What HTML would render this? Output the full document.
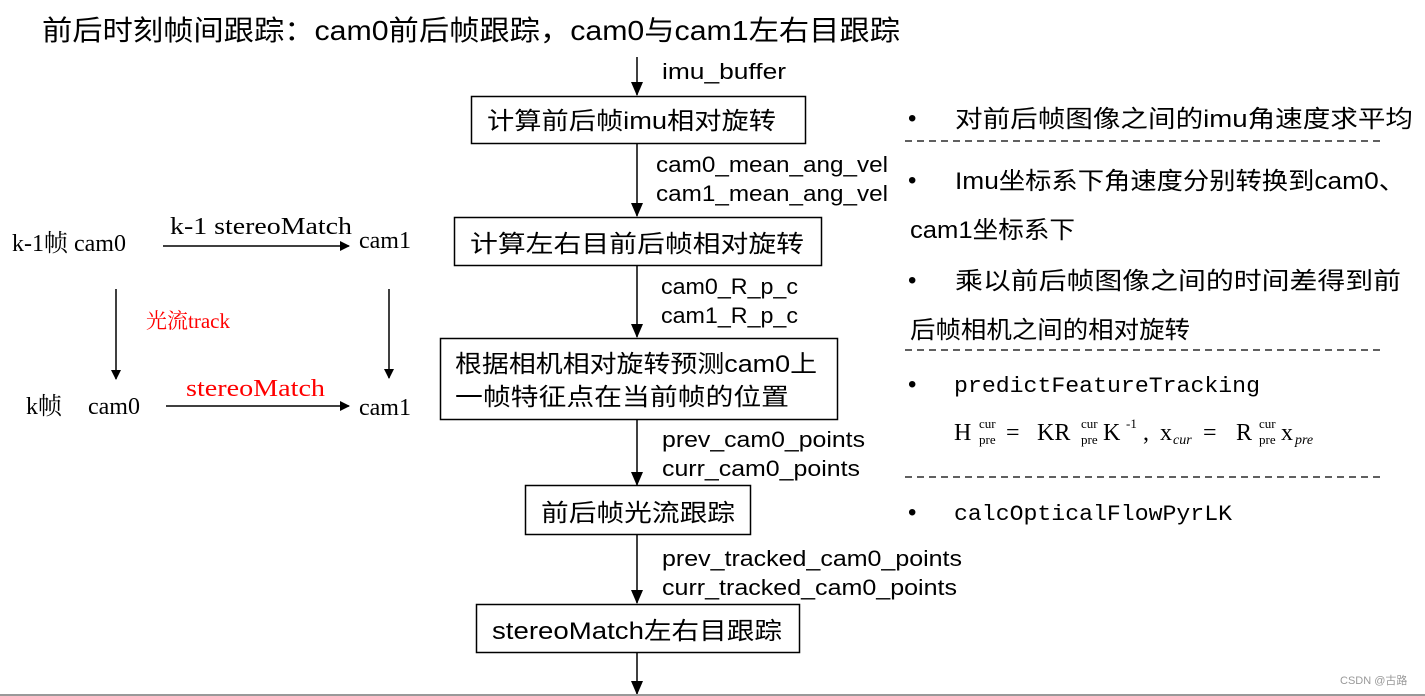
<!DOCTYPE html>
<html><head><meta charset="utf-8"><style>
html,body{margin:0;padding:0;background:#fff;}
svg{display:block;}
.cj{font-family:"Liberation Sans","Noto Sans CJK SC",sans-serif;}
.sr{font-family:"Liberation Serif","Noto Serif CJK SC",serif;}
.mo{font-family:"Liberation Mono","Noto Sans CJK SC",monospace;}
</style></head><body>
<svg width="1425" height="696" viewBox="0 0 1425 696" xmlns="http://www.w3.org/2000/svg">
<defs><marker id="a" markerWidth="10" markerHeight="10" refX="9" refY="5" orient="auto" markerUnits="userSpaceOnUse"><path d="M0,0 L10,5 L0,10 z" fill="#000"/></marker>
<marker id="b" markerWidth="14" markerHeight="14" refX="13" refY="6" orient="auto" markerUnits="userSpaceOnUse"><path d="M0,0 L14,6 L0,12 z" fill="#000"/></marker></defs>
<rect width="1425" height="696" fill="#fff"/>
<text class="cj" x="42" y="40" font-size="28" textLength="858" lengthAdjust="spacingAndGlyphs">前后时刻帧间跟踪：cam0前后帧跟踪，cam0与cam1左右目跟踪</text>

<g stroke="#000" stroke-width="1.5" fill="none">
<line x1="637" y1="57" x2="637" y2="95" marker-end="url(#b)"/>
<line x1="637" y1="144" x2="637" y2="216" marker-end="url(#b)"/>
<line x1="637" y1="266" x2="637" y2="337" marker-end="url(#b)"/>
<line x1="637" y1="419" x2="637" y2="485" marker-end="url(#b)"/>
<line x1="637" y1="535" x2="637" y2="603" marker-end="url(#b)"/>
<line x1="637" y1="653" x2="637" y2="694" marker-end="url(#b)"/>
<rect x="471.5" y="96.5" width="334" height="47"/>
<rect x="454.5" y="217.5" width="367" height="48"/>
<rect x="440.5" y="338.5" width="397" height="81"/>
<rect x="525.5" y="485.5" width="225" height="49"/>
<rect x="476.5" y="604.5" width="323" height="48"/>
</g>
<g class="cj" font-size="24">
<text x="487" y="129" textLength="289" lengthAdjust="spacingAndGlyphs">计算前后帧imu相对旋转</text>
<text x="470" y="252" textLength="334" lengthAdjust="spacingAndGlyphs">计算左右目前后帧相对旋转</text>
<text x="455" y="372" textLength="362" lengthAdjust="spacingAndGlyphs">根据相机相对旋转预测cam0上</text>
<text x="455" y="405" textLength="334" lengthAdjust="spacingAndGlyphs">一帧特征点在当前帧的位置</text>
<text x="541" y="521" textLength="194" lengthAdjust="spacingAndGlyphs">前后帧光流跟踪</text>
<text x="492" y="639" textLength="290" lengthAdjust="spacingAndGlyphs">stereoMatch左右目跟踪</text>
</g>
<g class="cj" font-size="22">
<text x="662" y="79" textLength="124" lengthAdjust="spacingAndGlyphs">imu_buffer</text>
<text x="656" y="172" textLength="232" lengthAdjust="spacingAndGlyphs">cam0_mean_ang_vel</text>
<text x="656" y="201" textLength="232" lengthAdjust="spacingAndGlyphs">cam1_mean_ang_vel</text>
<text x="661" y="294" textLength="137" lengthAdjust="spacingAndGlyphs">cam0_R_p_c</text>
<text x="661" y="323" textLength="137" lengthAdjust="spacingAndGlyphs">cam1_R_p_c</text>
<text x="662" y="447" textLength="203" lengthAdjust="spacingAndGlyphs">prev_cam0_points</text>
<text x="662" y="476" textLength="198" lengthAdjust="spacingAndGlyphs">curr_cam0_points</text>
<text x="662" y="566" textLength="300" lengthAdjust="spacingAndGlyphs">prev_tracked_cam0_points</text>
<text x="662" y="595" textLength="295" lengthAdjust="spacingAndGlyphs">curr_tracked_cam0_points</text>
</g>

<g class="cj" font-size="24">
<text x="908" y="126">•</text>
<text x="955" y="127" textLength="458" lengthAdjust="spacingAndGlyphs">对前后帧图像之间的imu角速度求平均</text>
<text x="908" y="188">•</text>
<text x="955" y="189" textLength="450" lengthAdjust="spacingAndGlyphs">Imu坐标系下角速度分别转换到cam0、</text>
<text x="910" y="238" textLength="165" lengthAdjust="spacingAndGlyphs">cam1坐标系下</text>
<text x="908" y="288">•</text>
<text x="955" y="289" textLength="446" lengthAdjust="spacingAndGlyphs">乘以前后帧图像之间的时间差得到前</text>
<text x="910" y="338" textLength="280" lengthAdjust="spacingAndGlyphs">后帧相机之间的相对旋转</text>
<text x="908" y="392">•</text>
<text x="908" y="520">•</text>
</g>
<g class="mo" font-size="22">
<text x="954" y="392" textLength="306" lengthAdjust="spacingAndGlyphs">predictFeatureTracking</text>
<text x="954" y="520" textLength="278" lengthAdjust="spacingAndGlyphs">calcOpticalFlowPyrLK</text>
</g>
<g stroke="#000" stroke-width="1.3" stroke-dasharray="7,5">
<line x1="905" y1="141" x2="1380" y2="141"/>
<line x1="905" y1="350" x2="1380" y2="350"/>
<line x1="905" y1="477" x2="1380" y2="477"/>
</g>
<g class="sr" font-size="24">
<text x="954" y="440">H</text>
<text x="979" y="428" font-size="13">cur</text><text x="979" y="444" font-size="13">pre</text>
<text x="1006" y="440">=</text>
<text x="1037" y="440">KR</text>
<text x="1081" y="428" font-size="13">cur</text><text x="1081" y="444" font-size="13">pre</text>
<text x="1103" y="440">K</text>
<text x="1126" y="428" font-size="13">-1</text>
<text x="1143" y="440">,</text>
<text x="1160" y="440">x</text>
<text x="1173" y="444" font-size="14" font-style="italic">cur</text>
<text x="1203" y="440">=</text>
<text x="1236" y="440">R</text>
<text x="1259" y="428" font-size="13">cur</text><text x="1259" y="444" font-size="13">pre</text>
<text x="1281" y="440">x</text>
<text x="1295" y="444" font-size="14" font-style="italic">pre</text>
</g>

<g class="sr" font-size="24">
<text x="12" y="251">k-1帧 cam0</text>
<text x="170" y="234" textLength="182" lengthAdjust="spacingAndGlyphs">k-1 stereoMatch</text>
<text x="359" y="248">cam1</text>
<text x="26" y="414">k帧</text>
<text x="88" y="414">cam0</text>
<text x="359" y="415">cam1</text>
<text x="186" y="396" fill="#ff0000" textLength="139" lengthAdjust="spacingAndGlyphs">stereoMatch</text>
<text x="146" y="328" fill="#ff0000" font-size="21">光流track</text>
</g>
<g stroke="#000" stroke-width="1.5">
<line x1="163" y1="246" x2="349" y2="246" marker-end="url(#a)"/>
<line x1="166" y1="406" x2="349" y2="406" marker-end="url(#a)"/>
<line x1="116" y1="289" x2="116" y2="379" marker-end="url(#a)"/>
<line x1="389" y1="289" x2="389" y2="378" marker-end="url(#a)"/>
</g>
<text class="cj" x="1340" y="684" font-size="11" fill="#999">CSDN @古路</text>
<rect x="0" y="694" width="1425" height="2" fill="#999"/>
</svg>
</body></html>
